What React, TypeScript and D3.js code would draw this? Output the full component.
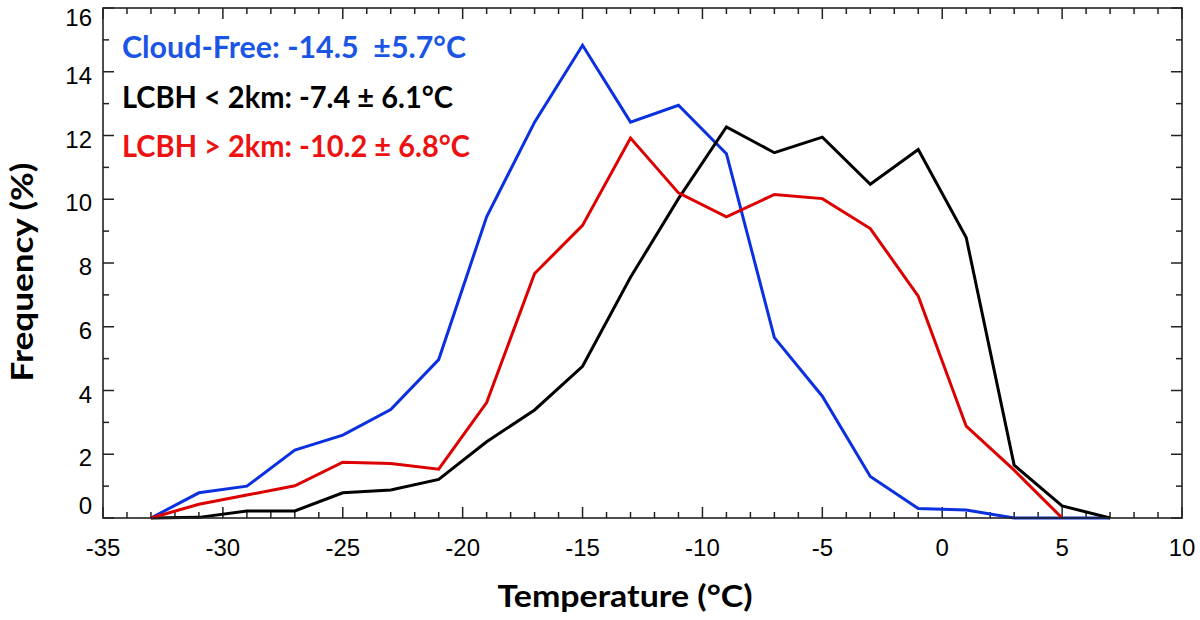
import React from "react"
import * as d3 from "d3"

// temperature bins (°C) and frequency (%) per class
const temps = [-33, -31, -29, -27, -25, -23, -21, -19, -17, -15, -13, -11, -9, -7, -5, -3, -1, 1, 3, 5, 7]
const cloudFree = [0, 0.79, 1.0, 2.13, 2.6, 3.4, 4.97, 9.45, 12.42, 14.83, 12.42, 12.95, 11.43, 5.66, 3.82, 1.3, 0.3, 0.25, 0, 0, 0]
const lowBase = [0, 0.02, 0.22, 0.22, 0.79, 0.88, 1.21, 2.39, 3.39, 4.76, 7.55, 10.02, 12.27, 11.46, 11.95, 10.47, 11.56, 8.8, 1.66, 0.38, 0]
const highBase = [0, 0.43, 0.72, 1.01, 1.75, 1.71, 1.53, 3.62, 7.67, 9.18, 11.92, 10.2, 9.45, 10.15, 10.02, 9.08, 6.96, 2.88, 1.5, 0, null]

const xTicks = [-35, -30, -25, -20, -15, -10, -5, 0, 5, 10]
const yTicks = [0, 2, 4, 6, 8, 10, 12, 14, 16]

const legend = [
  { text: "Cloud-Free: -14.5  \u00b15.7\u00b0C", color: "#1b55e6", len: 344 },
  { text: "LCBH < 2km: -7.4 \u00b1 6.1\u00b0C", color: "#000000", len: 331 },
  { text: "LCBH > 2km: -10.2 \u00b1 6.8\u00b0C", color: "#ee1111", len: 348 },
]

const series = [
  { values: cloudFree, color: "#0a30e0" },
  { values: lowBase, color: "#000000" },
  { values: highBase, color: "#dd0000" },
]

const W = 1200
const H = 620
const box = { left: 103, right: 1182, top: 8, bottom: 518 }

export default function App() {
  const x = d3.scaleLinear().domain([-35, 10]).range([box.left, box.right])
  const y = d3.scaleLinear().domain([0, 16]).range([box.bottom, box.top])

  const minorX = d3.range(-35, 10.5, 1)
  const minorY = d3.range(0, 16.5, 1)

  const line = d3
    .line<number | null>()
    .defined((d) => d !== null)
    .x((_, i) => x(temps[i]))
    .y((d) => y(d as number))

  const tickFont = "'Liberation Sans', Arial, sans-serif"
  const titleFont = "Lato, 'Open Sans', sans-serif"

  return (
    <svg
      width={W}
      height={H}
      style={{ position: "absolute", left: 0, top: 0, background: "#fff" }}
    >
      {/* ticks on all four sides */}
      <g stroke="#222" strokeWidth={1.5}>
        {minorX.map((t) => {
          const major = t % 5 === 0
          const len = major ? 11 : 6
          return (
            <g key={"x" + t}>
              <line x1={x(t)} x2={x(t)} y1={box.bottom} y2={box.bottom - len} />
              <line x1={x(t)} x2={x(t)} y1={box.top} y2={box.top + len} />
            </g>
          )
        })}
        {minorY.map((t) => {
          const major = t % 2 === 0
          const len = major ? 11 : 6
          return (
            <g key={"y" + t}>
              <line x1={box.left} x2={box.left + len} y1={y(t)} y2={y(t)} />
              <line x1={box.right} x2={box.right - len} y1={y(t)} y2={y(t)} />
            </g>
          )
        })}
      </g>

      {series.map((s, i) => (
        <path key={i} d={line(s.values) ?? ""} fill="none" stroke={s.color} strokeWidth={3} strokeLinejoin="miter" />
      ))}

      <rect
        x={box.left}
        y={box.top}
        width={box.right - box.left}
        height={box.bottom - box.top}
        fill="none"
        stroke="#222"
        strokeWidth={1.6}
      />

      {/* tick labels */}
      <g fontFamily={tickFont} fontSize={24} fill="#000">
        {xTicks.map((t) => (
          <text key={t} x={x(t)} y={556} textAnchor="middle">
            {t}
          </text>
        ))}
        {yTicks.map((t) => {
          const shift = t === 0 ? -4 : t === 16 ? 18 : 12
          return (
            <text key={t} x={92} y={y(t) + shift} textAnchor="end">
              {t}
            </text>
          )
        })}
      </g>

      {/* legend text */}
      <g fontFamily={titleFont} fontWeight="bold" fontSize={30}>
        {legend.map((l, i) => (
          <text
            key={i}
            x={122}
            y={58 + i * 49.5}
            fill={l.color}
            textLength={l.len}
            lengthAdjust="spacingAndGlyphs"
            style={{ whiteSpace: "pre" }}
          >
            {l.text}
          </text>
        ))}
      </g>

      {/* axis titles */}
      <text
        x={625}
        y={607}
        textAnchor="middle"
        fontFamily={titleFont}
        fontWeight="bold"
        fontSize={30}
        textLength={255}
        lengthAdjust="spacingAndGlyphs"
      >
        Temperature (°C)
      </text>
      <text
        transform={`translate(33,272) rotate(-90)`}
        textAnchor="middle"
        fontFamily={titleFont}
        fontWeight="bold"
        fontSize={31}
        textLength={219}
        lengthAdjust="spacingAndGlyphs"
      >
        Frequency (%)
      </text>
    </svg>
  )
}
